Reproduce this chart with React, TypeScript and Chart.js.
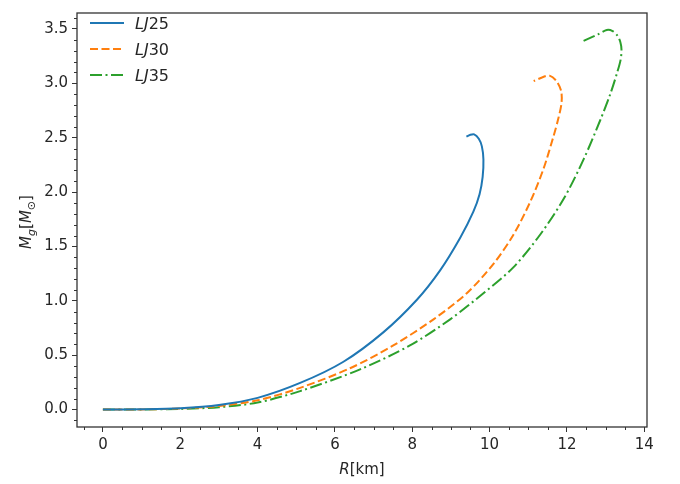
import React, { useEffect, useRef } from "react";
import { Chart, registerables } from "chart.js";

Chart.register(...registerables);

const seriesNames = ["25", "30", "35"];
const colors = ["#1f77b4", "#ff7f0e", "#2ca02c"];

const R25 = [0, 1, 2, 3, 4, 5.1, 6.22, 7.25, 8.12, 8.72, 9.24, 9.58, 9.74, 9.82, 9.84, 9.8, 9.72, 9.6, 9.49, 9.4];
const M25 = [0, 0.003, 0.013, 0.043, 0.108, 0.245, 0.44, 0.71, 1.01, 1.28, 1.58, 1.82, 1.98, 2.14, 2.3, 2.42, 2.49, 2.53, 2.525, 2.51];

const R30 = [0, 1, 2, 3, 4, 5.1, 6.39, 7.51, 8.55, 9.41, 10.1, 10.62, 11.05, 11.39, 11.65, 11.78, 11.86, 11.85, 11.73, 11.55, 11.4, 11.14];
const M30 = [0, 0.002, 0.01, 0.033, 0.085, 0.2, 0.38, 0.59, 0.83, 1.07, 1.34, 1.61, 1.91, 2.21, 2.51, 2.68, 2.82, 2.93, 3.02, 3.07, 3.06, 3.02];

const R35 = [0, 1, 2, 3, 4, 5.1, 6.65, 7.94, 8.98, 9.84, 10.62, 11.31, 11.92, 12.43, 12.86, 13.12, 13.3, 13.39, 13.41, 13.38, 13.3, 13.18, 13.03, 12.8, 12.43];
const M35 = [0, 0.001, 0.006, 0.022, 0.065, 0.17, 0.37, 0.59, 0.83, 1.07, 1.31, 1.61, 1.94, 2.3, 2.66, 2.9, 3.1, 3.22, 3.31, 3.38, 3.44, 3.48, 3.49, 3.45, 3.39];

const xTicks = [0, 2, 4, 6, 8, 10, 12, 14];
const yTicks = [0, 0.5, 1, 1.5, 2, 2.5, 3, 3.5];

const dashes: number[][] = [[], [8, 3.5], [12, 3.5, 2, 3.5]];
const FONT = "'DejaVu Sans', sans-serif";
const INK = "#262626";

type Part = { t: string; italic?: boolean; sub?: boolean };

function drawParts(ctx: CanvasRenderingContext2D, parts: Part[], x: number, y: number, size: number, align: "left" | "center") {
  const fontFor = (p: Part) => `${p.italic ? "italic " : ""}${p.sub ? Math.round(size * 0.7) : size}px ${FONT}`;
  let total = 0;
  for (const p of parts) {
    ctx.font = fontFor(p);
    total += ctx.measureText(p.t).width;
  }
  let cx = align === "center" ? x - total / 2 : x;
  ctx.textBaseline = "alphabetic";
  ctx.textAlign = "left";
  for (const p of parts) {
    ctx.font = fontFor(p);
    ctx.fillText(p.t, cx, y + (p.sub ? size * 0.25 : 0));
    cx += ctx.measureText(p.t).width;
  }
}

const decorPlugin = {
  id: "decor",
  afterDraw(chart: any) {
    const ctx: CanvasRenderingContext2D = chart.ctx;
    const { left, right, top, bottom } = chart.chartArea;
    const xs = chart.scales.x;
    const ys = chart.scales.y;
    ctx.save();
    // minor ticks
    ctx.strokeStyle = "#333";
    ctx.lineWidth = 1;
    ctx.beginPath();
    for (let i = -1; i <= 28; i++) {
      const v = i * 0.5;
      if (i % 4 === 0) continue;
      const px = xs.getPixelForValue(v);
      if (px < left - 0.5 || px > right + 0.5) continue;
      ctx.moveTo(Math.round(px) + 0.5, bottom);
      ctx.lineTo(Math.round(px) + 0.5, bottom + 3);
    }
    for (let i = -1; i <= 36; i++) {
      const v = i * 0.1;
      if (i % 5 === 0) continue;
      const py = ys.getPixelForValue(v);
      if (py < top - 0.5 || py > bottom + 0.5) continue;
      ctx.moveTo(left, Math.round(py) + 0.5);
      ctx.lineTo(left - 3, Math.round(py) + 0.5);
    }
    ctx.stroke();
    // frame
    ctx.strokeStyle = "#333";
    ctx.lineWidth = 1.3;
    ctx.strokeRect(left, top, right - left, bottom - top);

    // legend
    ctx.fillStyle = INK;
    const rows = [23, 49, 75];
    for (let i = 0; i < 3; i++) {
      ctx.strokeStyle = colors[i];
      ctx.lineWidth = 2;
      ctx.setLineDash(dashes[i]);
      ctx.beginPath();
      ctx.moveTo(90, rows[i]);
      ctx.lineTo(124, rows[i]);
      ctx.stroke();
      ctx.setLineDash([]);
      drawParts(ctx, [{ t: "LJ", italic: true }, { t: seriesNames[i] }], 135, rows[i] + 6, 16, "left");
    }

    // axis titles
    drawParts(ctx, [{ t: "R", italic: true }, { t: "[km]" }], (left + right) / 2, 474, 15, "center");
    ctx.save();
    ctx.translate(31, 222);
    ctx.rotate(-Math.PI / 2);
    drawParts(
      ctx,
      [{ t: "M", italic: true }, { t: "g", italic: true, sub: true }, { t: "[" }, { t: "M", italic: true }, { t: "⊙", sub: true }, { t: "]" }],
      0,
      0,
      15,
      "center"
    );
    ctx.restore();
    ctx.restore();
  },
};

export default function App() {
  const ref = useRef<HTMLCanvasElement>(null);
  useEffect(() => {
    document.body.style.margin = "0";
    const Rs = [R25, R30, R35];
    const Ms = [M25, M30, M35];
    const chart = new Chart(ref.current!, {
      type: "scatter",
      data: {
        datasets: Rs.map((r, i) => ({
          label: "LJ" + seriesNames[i],
          data: r.map((x, j) => ({ x, y: Ms[i][j] })),
          showLine: true,
          borderColor: colors[i],
          backgroundColor: colors[i],
          borderWidth: 2,
          borderDash: dashes[i],
          pointRadius: 0,
          tension: 0.3,
        })),
      },
      options: {
        animation: false,
        responsive: false,
        maintainAspectRatio: false,
        layout: { padding: { top: 3, right: 33, left: 0, bottom: 0 } },
        plugins: { legend: { display: false }, tooltip: { enabled: false } },
        scales: {
          x: {
            type: "linear",
            min: -0.67,
            max: 14.07,
            afterBuildTicks: (s: any) => {
              s.ticks = xTicks.map((v) => ({ value: v }));
            },
            afterFit: (s: any) => {
              s.height = 57;
            },
            ticks: {
              callback: (v: any) => String(v),
              color: INK,
              font: { family: FONT, size: 15 },
              padding: 4,
              maxRotation: 0,
              autoSkip: false,
            },
            grid: { drawOnChartArea: false, drawTicks: true, tickLength: 5, color: "#333" },
            border: { display: false },
          },
          y: {
            type: "linear",
            min: -0.16,
            max: 3.646,
            afterBuildTicks: (s: any) => {
              s.ticks = yTicks.map((v) => ({ value: v }));
            },
            afterFit: (s: any) => {
              s.width = 77;
            },
            ticks: {
              callback: (v: any) => Number(v).toFixed(1),
              color: INK,
              font: { family: FONT, size: 15 },
              padding: 4,
              autoSkip: false,
            },
            grid: { drawOnChartArea: false, drawTicks: true, tickLength: 5, color: "#333" },
            border: { display: false },
          },
        },
      },
      plugins: [decorPlugin],
    } as any);
    return () => chart.destroy();
  }, []);
  return <canvas ref={ref} width={680} height={484} style={{ display: "block" }} />;
}
